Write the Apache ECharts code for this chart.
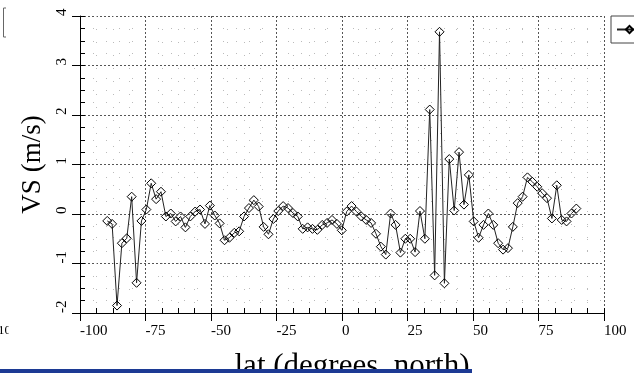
<!DOCTYPE html>
<html>
<head>
<meta charset="utf-8">
<script src="https://cdn.jsdelivr.net/npm/echarts@6/dist/echarts.min.js"></script>
<style>
  html, body { margin: 0; padding: 0; background: #fff; }
  #main { width: 634px; height: 373px; }
</style>
</head>
<body>
<div id="main"></div>
<script>
// latitude of each sample (degrees north)
const lat = [-89.60, -87.74, -85.87, -84.01, -82.14, -80.28, -78.41, -76.55, -74.68, -72.82,
  -70.95, -69.09, -67.22, -65.36, -63.49, -61.63, -59.76, -57.90, -56.03, -54.17,
  -52.30, -50.44, -48.57, -46.71, -44.84, -42.98, -41.11, -39.25, -37.38, -35.52,
  -33.65, -31.79, -29.92, -28.06, -26.19, -24.33, -22.46, -20.60, -18.73, -16.87,
  -15.00, -13.14, -11.27, -9.41, -7.54, -5.68, -3.81, -1.95, -0.08, 1.79,
  3.65, 5.52, 7.38, 9.25, 11.11, 12.98, 14.84, 16.71, 18.57, 20.44,
  22.30, 24.17, 26.03, 27.90, 29.76, 31.63, 33.49, 35.36, 37.22, 39.09,
  40.95, 42.82, 44.68, 46.55, 48.41, 50.28, 52.14, 54.01, 55.87, 57.74,
  59.60, 61.47, 63.33, 65.20, 67.06, 68.93, 70.79, 72.66, 74.52, 76.39,
  78.25, 80.12, 81.98, 83.85, 85.71, 87.58, 89.44];

// VS (m/s)
const vs = [-0.14, -0.20, -1.85, -0.59, -0.49, 0.35, -1.39, -0.14, 0.09, 0.62,
  0.30, 0.45, -0.05, 0.01, -0.15, -0.05, -0.27, -0.05, 0.05, 0.09,
  -0.20, 0.17, -0.03, -0.19, -0.53, -0.48, -0.38, -0.35, -0.05, 0.12,
  0.28, 0.15, -0.26, -0.41, -0.10, 0.06, 0.16, 0.12, 0.02, -0.05,
  -0.30, -0.27, -0.30, -0.32, -0.22, -0.18, -0.12, -0.20, -0.33, 0.05,
  0.16, 0.05, -0.05, -0.12, -0.18, -0.40, -0.66, -0.82, 0.01, -0.22,
  -0.78, -0.50, -0.50, -0.77, 0.06, -0.50, 2.11, -1.24, 3.68, -1.40,
  1.11, 0.07, 1.25, 0.19, 0.79, -0.15, -0.48, -0.22, 0.01, -0.22,
  -0.59, -0.72, -0.69, -0.26, 0.22, 0.35, 0.74, 0.65, 0.55, 0.42,
  0.32, -0.09, 0.58, -0.12, -0.15, 0.01, 0.11];

// axis ranges [min, max, step]
const xRange = [-100, 100, 25];
const yRange = [-2, 4, 1];

const serif = 'Liberation Serif';

const chart = echarts.init(document.getElementById('main'));

// second, label-less axis only draws the inward ticks
function innerAxis(range, pos) {
  return {
    type: 'value', position: pos, gridIndex: 0,
    min: range[0], max: range[1], interval: range[2],
    axisLine: {show: false, onZero: false},
    axisTick: {show: true, inside: true, length: 5, lineStyle: {color: '#000'}},
    minorTick: {show: true, splitNumber: 4, length: 5, lineStyle: {color: '#000'}},
    axisLabel: {show: false},
    splitLine: {show: false}
  };
}

const option = {
  backgroundColor: '#fff',
  animation: false,
  grid: {left: 80, right: 30, top: 16, bottom: 60, outerBoundsMode: 'none', containLabel: false},
  legend: {
    data: ['VS'],
    left: 611, top: 16,
    padding: [6, 4, 6, 5],
    borderColor: '#444', borderWidth: 1,
    itemWidth: 25, itemHeight: 9,
    textStyle: {fontFamily: serif, fontSize: 15, color: '#000'}
  },
  xAxis: [{
    type: 'value', position: 'bottom',
    min: xRange[0], max: xRange[1], interval: xRange[2],
    name: 'lat (degrees_north)', nameLocation: 'middle', nameGap: 38,
    nameTextStyle: {fontFamily: serif, fontSize: 31, color: '#000', padding: [0, 0, 0, 20]},
    axisLine: {show: true, onZero: false, lineStyle: {color: '#000', width: 1}},
    axisTick: {show: true, length: 8, lineStyle: {color: '#000'}},
    minorTick: {show: false, splitNumber: 4},
    axisLabel: {fontFamily: serif, fontSize: 15, color: '#000', align: 'left', margin: 11},
    splitLine: {show: true, lineStyle: {color: '#555', type: [2, 2]}},
    minorSplitLine: {show: true, lineStyle: {color: '#bbb', type: [1, 12]}}
  }, innerAxis(xRange, 'bottom')],
  yAxis: [{
    type: 'value', position: 'left',
    min: yRange[0], max: yRange[1], interval: yRange[2],
    name: 'VS (m/s)', nameLocation: 'middle', nameGap: 33,
    nameTextStyle: {fontFamily: serif, fontSize: 27, color: '#000'},
    axisLine: {show: true, onZero: false, lineStyle: {color: '#000', width: 1}},
    axisTick: {show: true, length: 8, lineStyle: {color: '#000'}},
    minorTick: {show: false, splitNumber: 4},
    axisLabel: {fontFamily: serif, fontSize: 15, color: '#000', rotate: 90,
      align: 'left', verticalAlign: 'middle', margin: 18},
    splitLine: {show: true, lineStyle: {color: '#555', type: [2, 2]}},
    minorSplitLine: {show: true, lineStyle: {color: '#bbb', type: [1, 12]}}
  }, innerAxis(yRange, 'left')],
  series: [{
    name: 'VS',
    type: 'line',
    xAxisIndex: 0, yAxisIndex: 0,
    data: lat.map((x, i) => [x, vs[i]]),
    symbol: 'diamond',
    symbolSize: 9,
    showAllSymbol: true,
    lineStyle: {color: '#222', width: 1},
    itemStyle: {color: 'rgba(255,255,255,0)', borderColor: '#000', borderWidth: 1},
    emphasis: {disabled: true}
  }],
  graphic: [
    {type: 'polyline', shape: {points: [[6, 8], [3.5, 8], [3.5, 37], [6, 37]]},
      style: {stroke: '#666', fill: null, lineWidth: 1}},
    {type: 'text', x: -2, y: 331,
      style: {text: '10', font: '13px "Liberation Serif"', fill: '#000', verticalAlign: 'middle'}},
    {type: 'rect', shape: {x: 8.5, y: 320, width: 10, height: 20}, style: {fill: '#fff'}, z: 50},
    {type: 'rect', shape: {x: 0, y: 369, width: 472, height: 4}, style: {fill: '#1c3a94'}, z: 100}
  ]
};

chart.setOption(option);
</script>
</body>
</html>
